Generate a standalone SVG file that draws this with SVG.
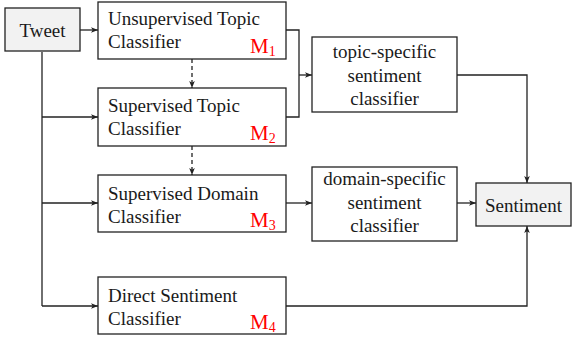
<svg xmlns="http://www.w3.org/2000/svg" width="572" height="338" viewBox="0 0 572 338">
<style>
.box{fill:#fff;stroke:#222;stroke-width:1.3}
.gbox{fill:#f2f2f2;stroke:#222;stroke-width:1.3}
.t{font-family:"Liberation Serif","Times New Roman",serif;font-size:19px;fill:#1a1a1a}
.c{text-anchor:middle}
.m{font-family:"Liberation Serif","Times New Roman",serif;font-size:21px;fill:#f00}
.ln{fill:none;stroke:#222;stroke-width:1.3}
.ds{stroke-dasharray:4 3}
</style>
<defs>
<marker id="ah" viewBox="0 0 10 10" refX="10" refY="5" markerWidth="7" markerHeight="7" markerUnits="userSpaceOnUse" orient="auto">
<path d="M0,1 L10,5 L0,9 L2.5,5 Z" fill="#222"/>
</marker>
</defs>
<g id="connectors">
<path class="ln" d="M42,52 V306"/>
<path class="ln" d="M80,30 H98" marker-end="url(#ah)"/>
<path class="ln" d="M42,117 H98" marker-end="url(#ah)"/>
<path class="ln" d="M42,203 H98" marker-end="url(#ah)"/>
<path class="ln" d="M42,306 H98" marker-end="url(#ah)"/>
<path class="ln ds" d="M192,59 V88" marker-end="url(#ah)"/>
<path class="ln ds" d="M192,146 V175" marker-end="url(#ah)"/>
<path class="ln" d="M286,30 H299 V117 H286"/>
<path class="ln" d="M299,75 H312" marker-end="url(#ah)"/>
<path class="ln" d="M457,75 H527 V183" marker-end="url(#ah)"/>
<path class="ln" d="M286,203 H312" marker-end="url(#ah)"/>
<path class="ln" d="M457,203 H476" marker-end="url(#ah)"/>
<path class="ln" d="M286,306 H527 V226" marker-end="url(#ah)"/>
</g>
<g id="tweet">
<rect class="gbox" x="5" y="8" width="75" height="43"/>
<text class="t c" x="42.5" y="37">Tweet</text>
</g>
<g id="m1">
<rect class="box" x="98" y="2" width="188" height="57"/>
<text class="t" x="108" y="25">Unsupervised Topic</text>
<text class="t" x="108" y="48">Classifier</text>
<text class="m" x="250" y="53">M<tspan font-size="14" dy="3">1</tspan></text>
</g>
<g id="m2">
<rect class="box" x="98" y="88" width="188" height="58"/>
<text class="t" x="108" y="112">Supervised Topic</text>
<text class="t" x="108" y="135">Classifier</text>
<text class="m" x="250" y="140">M<tspan font-size="14" dy="3">2</tspan></text>
</g>
<g id="m3">
<rect class="box" x="98" y="175" width="188" height="57"/>
<text class="t" x="108" y="200">Supervised Domain</text>
<text class="t" x="108" y="223">Classifier</text>
<text class="m" x="250" y="227">M<tspan font-size="14" dy="3">3</tspan></text>
</g>
<g id="m4">
<rect class="box" x="98" y="277" width="188" height="57"/>
<text class="t" x="108" y="302">Direct Sentiment</text>
<text class="t" x="108" y="325">Classifier</text>
<text class="m" x="250" y="329">M<tspan font-size="14" dy="3">4</tspan></text>
</g>
<g id="topic-specific">
<rect class="box" x="312" y="37" width="145" height="75"/>
<text class="t c" x="384.5" y="58">topic-specific</text>
<text class="t c" x="384.5" y="82">sentiment</text>
<text class="t c" x="384.5" y="105">classifier</text>
</g>
<g id="domain-specific">
<rect class="box" x="312" y="167" width="145" height="74"/>
<text class="t c" x="384.5" y="185">domain-specific</text>
<text class="t c" x="384.5" y="209">sentiment</text>
<text class="t c" x="384.5" y="232">classifier</text>
</g>
<g id="sentiment">
<rect class="gbox" x="476" y="183" width="95" height="43"/>
<text class="t c" x="523.5" y="212">Sentiment</text>
</g>
</svg>
